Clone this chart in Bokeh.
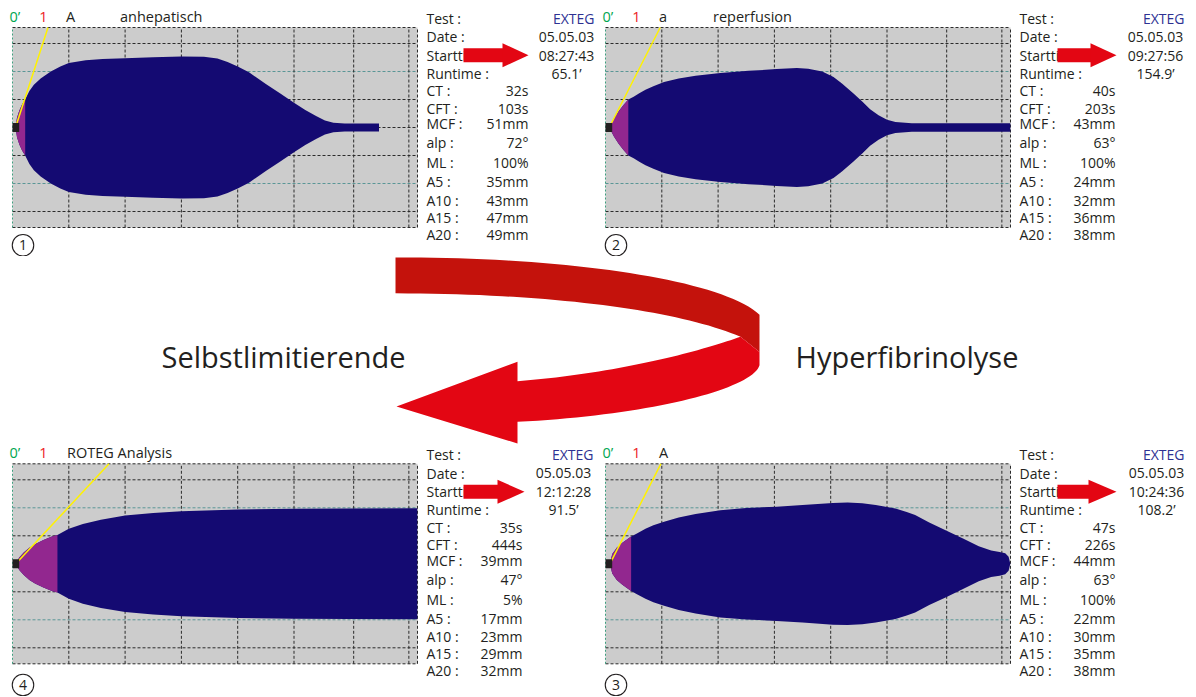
import numpy as np
from bokeh.plotting import figure
from bokeh.models import Range1d
from bokeh.layouts import column, row
from bokeh.embed import file_html
from bokeh.resources import INLINE
from bokeh.core.properties import value

# ---------------------------------------------------------------- data
panel_numbers = [1, 2, 4, 3]
test_names = ["EXTEG", "EXTEG", "EXTEG", "EXTEG"]
dates = ["05.05.03", "05.05.03", "05.05.03", "05.05.03"]
start_times = ["08:27:43", "09:27:56", "12:12:28", "10:24:36"]
runtimes_min = [65.1, 154.9, 91.5, 108.2]
ct_s = [32, 40, 35, 47]
cft_s = [103, 203, 444, 226]
mcf_mm = [51, 43, 39, 44]
alp_deg = [72, 63, 47, 63]
ml_pct = [100, 100, 5, 100]
a5_mm = [35, 24, 17, 22]
a10_mm = [43, 32, 23, 30]
a15_mm = [47, 36, 29, 35]
a20_mm = [49, 38, 32, 38]
header_letters = ["A", "a", "", "A"]
header_titles = ["anhepatisch", "reperfusion", "ROTEG Analysis", ""]
row_labels = ["Test :", "Date :", "Startti", "Runtime :", "CT :", "CFT :", "MCF :",
              "alp :", "ML :", "A5 :", "A10 :", "A15 :", "A20 :"]
middle_left_text = "Selbstlimitierende"
middle_right_text = "Hyperfibrinolyse"

# amplitude traces (time in min, amplitude in mm)
t_p1 = [0.55, 0.8, 1.2, 1.7, 2.25, 3.0, 3.8, 5.0, 6.8, 8.5, 10.0, 13.0, 16.0, 20.0, 25.0,
        30.0, 34.0, 36.4, 38.2, 40.0, 42.0, 45.0, 47.5, 50.0, 52.0, 54.0, 55.5, 57.0, 59.0, 65.1]
a_p1 = [0.0, 7.0, 12.0, 16.5, 20.0, 26.0, 30.5, 35.0, 40.0, 43.5, 46.0, 48.0, 49.0, 49.5, 50.2,
        50.8, 50.6, 49.2, 46.8, 43.6, 39.5, 31.0, 24.5, 17.6, 12.5, 8.0, 5.0, 3.4, 2.8, 2.8]

t_p2 = [0.67, 1.5, 2.3, 3.2, 4.05, 5.0, 6.0, 7.1, 8.5, 10.4, 13.0, 16.0, 20.4, 25.4, 30.4,
        34.0, 36.0, 38.5, 40.5, 42.0, 44.0, 45.6, 47.0, 48.5, 50.0, 51.5, 54.4, 71.9]
a_p2 = [0.0, 6.5, 11.5, 16.0, 20.0, 22.0, 24.5, 27.0, 29.5, 32.5, 35.0, 37.0, 39.0, 40.5, 41.7,
        42.5, 42.0, 40.0, 36.0, 31.5, 24.5, 18.5, 13.0, 8.8, 5.5, 4.0, 3.0, 3.0]

t_p4 = [0.58, 1.2, 2.0, 3.0, 4.0, 5.5, 7.0, 7.98, 10.0, 12.5, 15.7, 20.0, 25.0, 30.0, 40.0,
        50.0, 60.0, 71.9]
a_p4 = [0.0, 4.5, 8.0, 11.5, 14.0, 17.0, 19.5, 20.5, 25.0, 28.5, 31.5, 34.5, 36.3, 37.5, 38.8,
        39.3, 39.5, 39.6]

t_p3 = [0.78, 1.2, 2.0, 3.0, 4.55, 5.5, 7.1, 8.5, 10.4, 13.0, 16.0, 20.4, 25.0, 30.4, 35.0,
        40.4, 43.0, 45.6, 48.0, 51.5, 53.5, 55.0, 57.5, 60.4, 63.5, 66.3, 68.5, 70.0, 71.0,
        71.6, 71.9]
a_p3 = [0.0, 7.0, 11.5, 15.0, 19.5, 21.5, 25.0, 27.5, 30.0, 33.0, 35.5, 38.3, 39.8, 40.8, 42.0,
        43.5, 43.7, 43.2, 42.0, 39.5, 37.0, 34.8, 29.5, 24.0, 18.0, 12.5, 9.5, 8.5, 7.5,
        5.0, 0.0]

traces_t = [t_p1, t_p2, t_p4, t_p3]
traces_a = [a_p1, a_p2, a_p4, a_p3]

# ---------------------------------------------------------------- styles / layout
FONT = value("Open Sans")
GREY = "#cccccc"
BLUE = "#140a72"
PURPLE = "#92278f"
YELLOW = "#fff200"
DOT = "#2b2b2b"
TEAL = "#5a9696"
EDGE_GREEN = "#3f9f7f"
GREEN_TXT = "#00a651"
RED_TXT = "#ed1c24"
BLUE_TXT = "#2e3192"
ARROW_RED = "#e30613"
ARROW_DARK = "#c4120c"
TXT = "#231f20"

SX = 5.63            # px per minute
SY = 2.8             # px per mm (half amplitude drawn each side)
HALF = 100 / SY      # grey area half height (mm)
T_MAX = 405 / SX     # grey area width (min)
V_LINES = [10, 20, 30, 40, 50, 60.6, 70.4]
H_BLACK = [-30, -10, 0, 10, 30, -HALF, HALF]
H_TEAL = [-20, 20]
ROW_OFF = [-9, 9.5, 28, 46, 63.5, 81, 96.5, 115.5, 135.5, 154.5, 173, 190, 207]


def base_fig(w, h, xr, yr):
    p = figure(width=w, height=h, x_range=Range1d(*xr), y_range=Range1d(*yr),
               output_backend="svg", toolbar_location=None, tools="",
               x_axis_type=None, y_axis_type=None, min_border=0,
               outline_line_color=None, background_fill_color="white",
               border_fill_color="white")
    return p


def make_panel(i, width, height, g_left, center_top, circle_gap):
    x0 = -g_left / SX
    p = base_fig(width, height, (x0, x0 + width / SX),
                 (-(height - center_top) / SY, center_top / SY))
    # grey area and grid
    p.quad(left=[0], right=[T_MAX], bottom=[-HALF], top=[HALF], fill_color=GREY, line_color=None)
    p.segment(x0=[0] * len(H_BLACK), x1=[T_MAX] * len(H_BLACK), y0=H_BLACK, y1=H_BLACK,
              line_color=DOT, line_dash="3 2", line_width=1)
    p.segment(x0=[0, 0], x1=[T_MAX, T_MAX], y0=H_TEAL, y1=H_TEAL,
              line_color=TEAL, line_dash="3 2", line_width=1)
    vx = V_LINES + [T_MAX]
    p.segment(x0=vx, x1=vx, y0=[-HALF] * len(vx), y1=[HALF] * len(vx),
              line_color=DOT, line_dash="3 2", line_width=1)
    p.segment(x0=[0], x1=[0], y0=[-HALF], y1=[HALF], line_color=EDGE_GREEN,
              line_dash="2 2", line_width=1)
    # trace
    t = np.minimum(np.array(traces_t[i], dtype=float), T_MAX)
    a = np.array(traces_a[i], dtype=float) / 2
    p.patch(np.concatenate([t, t[::-1]]), np.concatenate([a, -a[::-1]]),
            fill_color=BLUE, line_color=None)
    tc = (ct_s[i] + cft_s[i]) / 60 + 1e-6
    m = t <= tc
    tp, ap = t[m], a[m]
    p.patch(np.concatenate([tp, tp[::-1]]), np.concatenate([ap, -ap[::-1]]),
            fill_color=PURPLE, line_color=None)
    # alpha angle line
    ct_min = ct_s[i] / 60
    dx = HALF * SY / np.tan(np.radians(alp_deg[i])) / SX
    p.segment(x0=[ct_min], y0=[0], x1=[ct_min + dx], y1=[HALF], line_color=YELLOW, line_width=1.5)
    # start marker
    p.quad(left=[0], right=[6.7 / SX], bottom=[-4.5 / SY], top=[4.5 / SY],
           fill_color=TXT, line_color=None)
    # header
    hy = HALF + 11 / SY
    p.text(x=[-3 / SX], y=[hy], text=["0\u2019"], text_color=GREEN_TXT, text_font=FONT,
           text_font_size="14.5px", text_baseline="middle", text_align="left")
    p.text(x=[31 / SX], y=[hy], text=["1"], text_color=RED_TXT, text_font=FONT,
           text_font_size="14.5px", text_baseline="middle", text_align="center")
    if header_letters[i]:
        p.text(x=[53.5 / SX], y=[hy], text=[header_letters[i]], text_color=TXT, text_font=FONT,
               text_font_size="14.5px", text_baseline="middle", text_align="left")
        if header_titles[i]:
            p.text(x=[107.5 / SX], y=[hy], text=[header_titles[i]], text_color=TXT,
                   text_font=FONT, text_font_size="14.5px", text_baseline="middle",
                   text_align="left")
    elif header_titles[i]:
        p.text(x=[54.5 / SX], y=[hy], text=[header_titles[i]], text_color=TXT, text_font=FONT,
               text_font_size="14.5px", text_baseline="middle", text_align="left")
    # circled number
    cy = -HALF - circle_gap / SY
    cx = 10.5 / SX
    p.scatter(x=[cx], y=[cy], marker="circle", size=21.5, fill_color=None,
              line_color=TXT, line_width=1.1)
    p.text(x=[cx], y=[cy], text=[str(panel_numbers[i])], text_color=TXT, text_font=FONT,
           text_font_size="14px", text_baseline="middle", text_align="center")
    return p


def make_text_col(i, left, width, top, height, grey_top, val_right, top_center,
                  exteg_right, shaft_left, head_base, tip):
    p = base_fig(width, height, (left, left + width), (top + height, top))
    ys = [grey_top + r for r in ROW_OFF]
    p.text(x=[left + 6] * len(row_labels), y=ys, text=row_labels, text_color=TXT,
           text_font=FONT, text_font_size="14px", text_baseline="middle", text_align="left")
    p.text(x=[exteg_right], y=[ys[0]], text=[test_names[i]], text_color=BLUE_TXT,
           text_font=FONT, text_font_size="14px", text_baseline="middle", text_align="right")
    top_vals = [dates[i], start_times[i], f"{runtimes_min[i]}\u2019"]
    p.text(x=[top_center] * 3, y=ys[1:4], text=top_vals, text_color=TXT, text_font=FONT,
           text_font_size="14px", text_baseline="middle", text_align="center")
    vals = [f"{ct_s[i]}s", f"{cft_s[i]}s", f"{mcf_mm[i]}mm", f"{alp_deg[i]}\u00b0",
            f"{ml_pct[i]}%", f"{a5_mm[i]}mm", f"{a10_mm[i]}mm", f"{a15_mm[i]}mm",
            f"{a20_mm[i]}mm"]
    p.text(x=[val_right] * len(vals), y=ys[4:], text=vals, text_color=TXT, text_font=FONT,
           text_font_size="14px", text_baseline="middle", text_align="right")
    ya = ys[2]
    p.quad(left=[shaft_left], right=[head_base + 0.5], bottom=[ya + 7], top=[ya - 7],
           fill_color=ARROW_RED, line_color=None)
    p.patch([head_base, tip, head_base], [ya - 12, ya, ya + 12], fill_color=ARROW_RED,
            line_color=None)
    return p


TOP_Y, TOP_H = 0, 256
MID_Y, MID_H = 256, 188
BOT_Y, BOT_H = 444, 252

f1 = make_panel(0, 420, TOP_H, 12, 127, 17.7)
t1 = make_text_col(0, 420, 181, TOP_Y, TOP_H, 26.7, 528, 566, 594, 463, 502, 528)
f2 = make_panel(1, 412, TOP_H, 4, 127, 17.7)
t2 = make_text_col(1, 1013, 182, TOP_Y, TOP_H, 26.7, 1115, 1155, 1184, 1057, 1090, 1116)
f4 = make_panel(2, 420, BOT_H, 12, 119.3, 21.2)
t4 = make_text_col(2, 420, 181, BOT_Y, BOT_H, 463.3, 522, 563, 593, 463, 497, 524)
f3 = make_panel(3, 412, BOT_H, 4, 119.3, 21.2)
t3 = make_text_col(3, 1013, 182, BOT_Y, BOT_H, 463.3, 1115, 1156, 1184, 1057, 1088, 1116)

# ---------------------------------------------------------------- middle: curved arrow
mid = base_fig(1195, MID_H, (0, 1195), (MID_Y + MID_H, MID_Y))


def bez(p0, p1, p2, p3, n=40):
    s = np.linspace(0, 1, n)[:, None]
    P = [np.array(q, dtype=float) for q in (p0, p1, p2, p3)]
    return (1 - s) ** 3 * P[0] + 3 * (1 - s) ** 2 * s * P[1] + 3 * (1 - s) * s ** 2 * P[2] + s ** 3 * P[3]


def squeeze(pts):
    pts = np.array(pts, dtype=float)
    pts[:, 1] = 257 + (pts[:, 1] - 252.7) * (443 - 257) / (450 - 252.7)
    return pts


upper = bez((395, 252.7), (560, 252), (720, 275), (759, 313.3))
inner = bez((395, 290.7), (560, 291), (680, 310), (740, 336.7))
dark = squeeze(np.vstack([upper, [[759, 353]], inner[::-1]]))
mid.patch(dark[:, 0], dark[:, 1], fill_color=ARROW_DARK, line_color=None)

ftop = bez((740, 336.7), (700, 352), (620, 375), (517, 384))
fbot = bez((759, 367), (752, 392), (650, 420), (517, 427))
front = squeeze(np.vstack([ftop, [[517, 363.3], [396, 410.7], [517, 450], [517, 427]],
                           fbot[::-1], [[759, 353]]]))
mid.patch(front[:, 0], front[:, 1], fill_color=ARROW_RED, line_color=None)

mid.text(x=[161], y=[356], text=[middle_left_text], text_color=TXT, text_font=FONT,
         text_font_size="29px", text_baseline="middle", text_align="left")
mid.text(x=[795], y=[356], text=[middle_right_text], text_color=TXT, text_font=FONT,
         text_font_size="29px", text_baseline="middle", text_align="left")

layout = column(row(f1, t1, f2, t2), mid, row(f4, t4, f3, t3))
open("out.html", "w").write(file_html(layout, INLINE))
